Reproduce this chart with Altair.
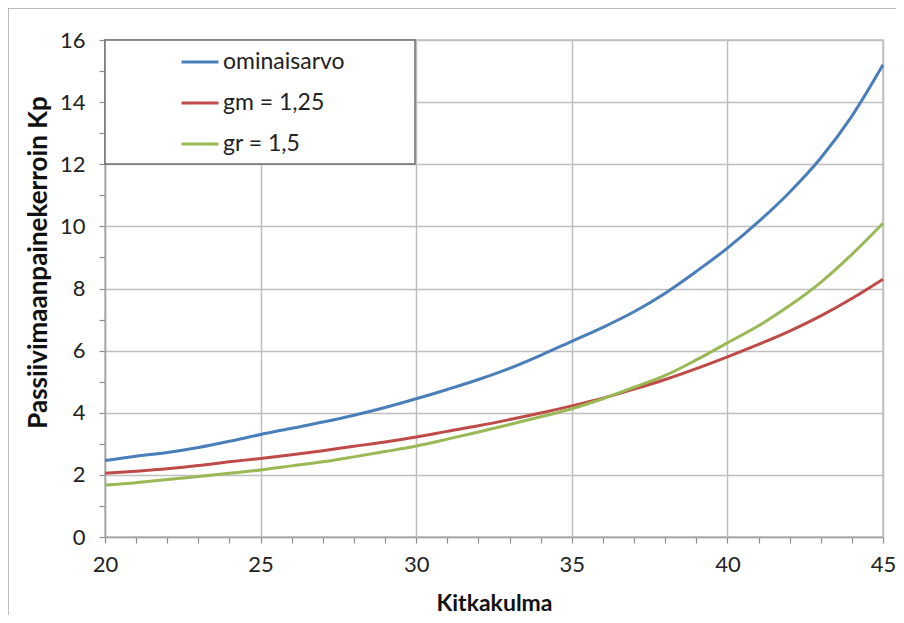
import altair as alt
import pandas as pd

# ---- data ----
angles = list(range(20, 46))
ominaisarvo = [2.46, 2.60, 2.72, 2.88, 3.08, 3.30, 3.50, 3.70, 3.92, 4.17,
               4.45, 4.75, 5.07, 5.43, 5.85, 6.30, 6.75, 7.25, 7.85, 8.55,
               9.30, 10.15, 11.10, 12.20, 13.55, 15.20]
gm_125 = [2.05, 2.12, 2.20, 2.30, 2.42, 2.53, 2.65, 2.78, 2.92, 3.06,
          3.22, 3.40, 3.58, 3.78, 3.99, 4.22, 4.47, 4.76, 5.07, 5.42,
          5.80, 6.20, 6.63, 7.12, 7.68, 8.30]
gr_15 = [1.67, 1.75, 1.85, 1.95, 2.05, 2.16, 2.29, 2.42, 2.58, 2.75,
         2.93, 3.15, 3.38, 3.62, 3.87, 4.13, 4.45, 4.82, 5.20, 5.70,
         6.25, 6.80, 7.45, 8.20, 9.10, 10.10]
series_names = ["ominaisarvo", "gm = 1,25", "gr = 1,5"]
series_colors = ["#4a7ebb", "#be4b48", "#98b954"]
x_ticks = list(range(20, 46))
y_ticks = list(range(0, 17))

rows = []
for name, vals in zip(series_names, [ominaisarvo, gm_125, gr_15]):
    for a, v in zip(angles, vals):
        rows.append({"Kitkakulma": a, "Kp": v, "sarja": name})
df = pd.DataFrame(rows)

W, H = 778, 497
FONT = "Lato"

lines = alt.Chart(df).mark_line(strokeWidth=3, interpolate="monotone").encode(
    x=alt.X(
        "Kitkakulma:Q",
        scale=alt.Scale(domain=[20, 45], nice=False, zero=False),
        axis=alt.Axis(
            values=x_ticks,
            labelExpr="datum.value % 5 === 0 ? datum.label : ''",
            gridOpacity={"condition": {"test": "datum.value % 5 === 0", "value": 1}, "value": 0},
            title="Kitkakulma",
            titleX=W / 2,
            titleY=66,
            titleBaseline="middle",
            titleAlign="center",
            titleFontSize=23,
            labelPadding=11,
            labelFlush=False,
            labelOverlap=False,
        ),
    ),
    y=alt.Y(
        "Kp:Q",
        scale=alt.Scale(domain=[0, 16], nice=False),
        axis=alt.Axis(
            values=y_ticks,
            labelExpr="datum.value % 2 === 0 ? datum.label : ''",
            gridOpacity={"condition": {"test": "datum.value % 2 === 0", "value": 1}, "value": 0},
            title="Passiivimaanpainekerroin  Kp",
            titleX=-67,
            titleY=222,
            titleAngle=-90,
            titleBaseline="middle",
            titleAlign="center",
            titleFontSize=26,
            labelPadding=14,
            labelOverlap=False,
        ),
    ),
    color=alt.Color(
        "sarja:N",
        sort=series_names,
        scale=alt.Scale(domain=series_names, range=series_colors),
        legend=alt.Legend(
            title=None,
            orient="none",
            legendX=75,
            legendY=2,
            symbolType="stroke",
            symbolSize=1369,
            symbolStrokeWidth=3,
            labelFontSize=23,
            labelColor="#222222",
            labelFont=FONT,
            labelOffset=3,
            padding=0,
            rowPadding=9,
        ),
    ),
)

box_df = pd.DataFrame({"k": [0]})
legend_box = alt.Chart(box_df).mark_rect(
    fill="white", stroke="#6e6e6e", strokeWidth=1.5
).encode(x=alt.value(0), x2=alt.value(310), y=alt.value(0), y2=alt.value(124))

frame = alt.Chart(box_df).mark_rect(
    filled=False, stroke="#a6a6a6", strokeWidth=1.5
).encode(x=alt.value(-97), x2=alt.value(830), y=alt.value(-32), y2=alt.value(640))

chart = alt.layer(frame, lines, legend_box).properties(
    width=W,
    height=H,
    autosize=alt.AutoSizeParams(type="none"),
    padding={"left": 97, "top": 32, "right": 13, "bottom": 78},
).configure(
    font=FONT,
    background="white",
).configure_view(
    stroke="#bfbfbf", strokeWidth=1.5
).configure_axis(
    labelFont=FONT,
    labelFontSize=22,
    labelColor="#222222",
    titleFont=FONT,
    titleFontWeight="bold",
    titleColor="#111111",
    gridColor="#bfbfbf",
    gridWidth=1.5,
    domainColor="#a6a6a6",
    domainWidth=1.5,
    tickColor="#8c8c8c",
    tickSize=6,
    tickWidth=1.2,
)

chart.save("out.html", embed_options={"renderer": "svg", "actions": False})
